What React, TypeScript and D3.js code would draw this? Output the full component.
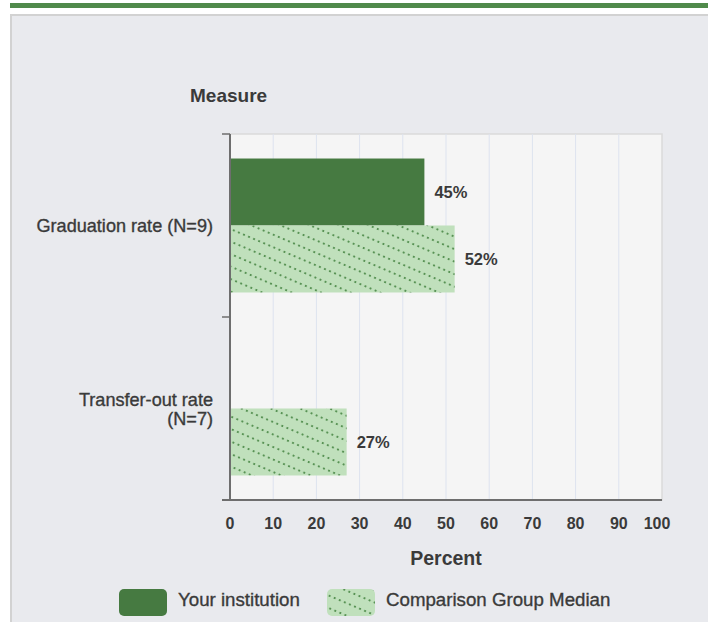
import React from 'react';
import * as d3 from 'd3';

const MEASURES = ['Graduation rate (N=9)', 'Transfer-out rate (N=7)'];
const MEASURE_LINES = [['Graduation rate (N=9)'], ['Transfer-out rate', '(N=7)']];
const INSTITUTION = [45, null];
const COMPARISON = [52, 27];
const SERIES = ['Your institution', 'Comparison Group Median'];
const X_TICKS = [0, 10, 20, 30, 40, 50, 60, 70, 80, 90, 100];

const W = 708;
const H = 622;
const margin = { top: 134, right: 46, bottom: 122, left: 230 };

const DARK = '#467a41';
const LIGHT = '#c0e0bc';
const DOT = '#3a7b35';
const TEXT = '#3a3a3a';
const FONT = "'Liberation Sans', Arial, sans-serif";

export default function App() {
  const x = d3.scaleLinear().domain([0, 100]).range([margin.left, W - margin.right]);
  const y = d3.scaleBand().domain(MEASURES).range([margin.top, H - margin.bottom]);
  const sub = d3.scaleBand().domain(SERIES).range([0, y.bandwidth()]).paddingOuter(0.366);
  const boundaries = [...MEASURES.map(m => y(m)!), H - margin.bottom];
  const [x0, x1] = x.range();
  const [yTop, yBot] = y.range();

  // medium-ish weight: regular glyphs with a thin outline
  const medium = { fontWeight: 'normal' as const, stroke: TEXT, strokeWidth: 0.35 };

  return (
    <svg width={W} height={H} style={{ position: 'absolute', left: 0, top: 0 }} fontFamily={FONT}>
      <defs>
        <pattern id="dots" patternUnits="userSpaceOnUse" width={5.5} height={11.5} patternTransform="rotate(23)">
          <rect width={5.5} height={11.5} fill={LIGHT} />
          <ellipse cx={2.75} cy={5.75} rx={1.15} ry={0.95} fill={DOT} opacity={0.9} />
        </pattern>
      </defs>
      <rect x={0} y={0} width={W} height={H} fill="#ffffff" />
      <rect x={10} y={3} width={W - 10} height={5} fill="#508a4b" />
      <rect x={11} y={15} width={W} height={H} fill="#e9eaee" stroke="#d2d2d2" strokeWidth={2} />

      {/* plot area */}
      <rect x={x0} y={yTop} width={x1 - x0} height={yBot - yTop} fill="#f5f5f5" stroke="#dadada" strokeWidth={1.5} />
      {X_TICKS.slice(1, -1).map(t => (
        <line key={t} x1={x(t)} x2={x(t)} y1={yTop} y2={yBot} stroke="#dde3ef" strokeWidth={1} />
      ))}

      {MEASURES.map((m, i) => {
        const by = y(m)!;
        const inst = INSTITUTION[i];
        const comp = COMPARISON[i];
        return (
          <g key={m}>
            {inst != null && (
              <>
                <rect x={x(0)} y={by + sub(SERIES[0])!} width={x(inst) - x(0)} height={sub.bandwidth()} fill={DARK} />
                <text x={x(inst) + 10} y={by + sub(SERIES[0])! + sub.bandwidth() / 2} dy="0.36em" fontSize={16.5} fontWeight="bold" fill={TEXT}>
                  {inst}%
                </text>
              </>
            )}
            {comp != null && (
              <>
                <rect x={x(0)} y={by + sub(SERIES[1])!} width={x(comp) - x(0)} height={sub.bandwidth()} fill="url(#dots)" />
                <text x={x(comp) + 10} y={by + sub(SERIES[1])! + sub.bandwidth() / 2} dy="0.36em" fontSize={16.5} fontWeight="bold" fill={TEXT}>
                  {comp}%
                </text>
              </>
            )}
            <text textAnchor="end" fontSize={18.1} fill={TEXT} {...medium}
              y={by + y.bandwidth() / 2 + 6.5 - (MEASURE_LINES[i].length - 1) * 9.5}>
              {MEASURE_LINES[i].map((ln, k) => (
                <tspan key={k} x={x0 - 17} dy={k === 0 ? 0 : 19}>{ln}</tspan>
              ))}
            </text>
          </g>
        );
      })}

      {/* axes */}
      <line x1={x0} x2={x0} y1={yTop} y2={yBot} stroke="#6e6e6e" strokeWidth={2} />
      <line x1={x0 - 8} x2={x1} y1={yBot} y2={yBot} stroke="#6e6e6e" strokeWidth={2} />
      {boundaries.map((b, i) => (
        <line key={i} x1={x0 - 8} x2={x0} y1={b} y2={b} stroke="#6e6e6e" strokeWidth={1.5} />
      ))}
      {X_TICKS.map((t, i) => (
        <text key={t} x={x(t) + (i === X_TICKS.length - 1 ? -5 : 0)} y={yBot + 29} textAnchor="middle" fontSize={16} fontWeight="bold" fill={TEXT}>
          {t}
        </text>
      ))}
      <text x={(x0 + x1) / 2} y={yBot + 65} textAnchor="middle" fontSize={19.5} fontWeight="bold" fill={TEXT}>Percent</text>
      <text x={190} y={101.5} fontSize={19} fontWeight="bold" fill={TEXT}>Measure</text>

      {/* legend */}
      <g>
        <rect x={119} y={589} width={48} height={27} rx={5} fill={DARK} />
        <text x={178} y={606} fontSize={18.7} fill={TEXT} {...medium}>{SERIES[0]}</text>
        <rect x={327} y={589} width={48} height={27} rx={5} fill="url(#dots)" />
        <text x={386} y={606} fontSize={18.7} fill={TEXT} {...medium}>{SERIES[1]}</text>
      </g>
    </svg>
  );
}
